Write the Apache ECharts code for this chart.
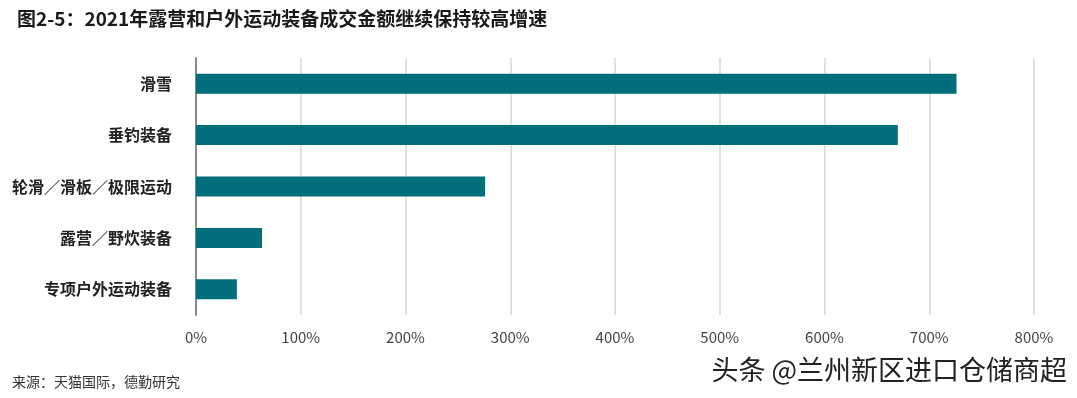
<!DOCTYPE html>
<html>
<head>
<meta charset="utf-8">
<style>
  html, body { margin: 0; padding: 0; background: #fff; }
  #chart { width: 1077px; height: 398px; }
</style>
<script src="https://cdn.jsdelivr.net/npm/echarts@6/dist/echarts.min.js"></script>
</head>
<body>
<div id="chart"></div>
<script>
  var categories = ['滑雪', '垂钓装备', '轮滑／滑板／极限运动', '露营／野炊装备', '专项户外运动装备'];
  var growth = [726, 670, 276, 63, 39];
  var xTicks = [0, 100, 200, 300, 400, 500, 600, 700, 800];

  var font = '"Noto Sans CJK SC", "Noto Sans", sans-serif';
  var chart = echarts.init(document.getElementById('chart'), null, { renderer: 'canvas' });

  chart.setOption({
    backgroundColor: '#fff',
    animation: false,
    textStyle: { fontFamily: font },
    title: {
      text: '图2-5：2021年露营和户外运动装备成交金额继续保持较高增速',
      left: 12,
      top: 4,
      textStyle: { fontSize: 19, fontWeight: 'bold', color: '#1a1a1a', fontFamily: font }
    },
    grid: { left: 196, right: 43, top: 58, bottom: 83, containLabel: false },
    xAxis: {
      type: 'value',
      min: xTicks[0],
      max: xTicks[xTicks.length - 1],
      interval: 100,
      axisLine: { show: false },
      axisTick: { show: false },
      splitLine: { show: true, lineStyle: { color: '#d6d6d6', width: 1.5 } },
      axisLabel: {
        margin: 15,
        fontSize: 15,
        color: '#444',
        fontFamily: font,
        formatter: function (v) { return v + '%'; }
      }
    },
    yAxis: {
      type: 'category',
      inverse: true,
      data: categories,
      axisLine: { show: true, lineStyle: { color: '#888', width: 2 } },
      axisTick: { show: false },
      axisLabel: { margin: 24, fontSize: 16, fontWeight: 'bold', color: '#222', fontFamily: font }
    },
    series: [{
      type: 'bar',
      data: growth,
      barWidth: 20,
      itemStyle: { color: '#036e7b' }
    }],
    graphic: [
      {
        type: 'text',
        left: 12,
        top: 375,
        style: { text: '来源：天猫国际，德勤研究', fill: '#333', font: '14px ' + font }
      },
      {
        type: 'text',
        right: 9,
        top: 355,
        style: {
          text: '头条 @兰州新区进口仓储商超',
          font: '27px ' + font,
          fill: '#222',
          stroke: '#fff',
          lineWidth: 2,
          shadowColor: 'rgba(0,0,0,0.5)',
          shadowBlur: 2,
          shadowOffsetX: 1,
          shadowOffsetY: 1
        }
      }
    ]
  });
</script>
</body>
</html>
